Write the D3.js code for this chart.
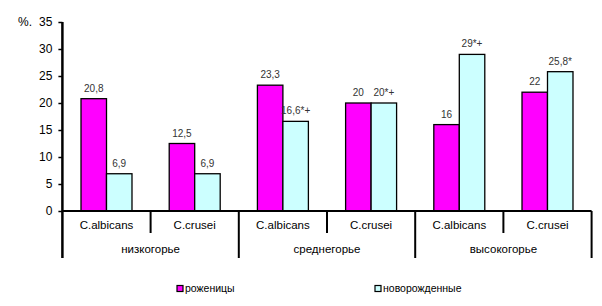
<!DOCTYPE html>
<html><head><meta charset="utf-8">
<script src="https://cdn.jsdelivr.net/npm/d3@7"></script>
<style>body{margin:0;background:#fff}svg{display:block;font-family:"Liberation Sans",Arial,sans-serif}</style>
</head><body>
<svg id="c" width="602" height="306"></svg>
<script>
const groups = ["низкогорье","среднегорье","высокогорье"];
const species = ["C.albicans","C.crusei"];
const seriesNames = ["роженицы","новорожденные"];
const mothers = [20.8, 12.5, 23.3, 20, 16, 22];
const newborns = [6.9, 6.9, 16.6, 20, 29, 25.8];
const motherLabels = ["20,8","12,5","23,3","20","16","22"];
const newbornLabels = ["6,9","6,9","16,6*+","20*+","29*+","25,8*"];
const yTicks = [0,5,10,15,20,25,30,35];
const colors = ["#ff00ff","#ccffff"];

(function(){
const svg = d3.select("#c");
const pL = 62.4, pR = 591.6, pT = 22, pB = 211;
const cats = d3.range(6);
const x = d3.scaleBand().domain(cats).range([pL, pR]).paddingInner(0).paddingOuter(0);
const xs = d3.scaleBand().domain([0,1]).range([0, x.bandwidth()]).paddingInner(0).paddingOuter(0.73);
const y = d3.scaleLinear().domain([0,35]).range([pB, pT]);

const data = [];
cats.forEach(i => {
  data.push({c:i, s:0, v:mothers[i], l:motherLabels[i]});
  data.push({c:i, s:1, v:newborns[i], l:newbornLabels[i]});
});
svg.append("g").selectAll("rect").data(data).join("rect")
  .attr("x", d => x(d.c) + xs(d.s))
  .attr("y", d => y(d.v))
  .attr("width", xs.bandwidth())
  .attr("height", d => y(0) - y(d.v))
  .attr("fill", d => colors[d.s])
  .attr("stroke", "#000").attr("stroke-width", 1.3);

svg.append("g").selectAll("text").data(data).join("text")
  .attr("x", d => x(d.c) + xs(d.s) + xs.bandwidth()/2)
  .attr("y", d => y(d.v) - 7)
  .attr("text-anchor", "middle")
  .attr("font-size", 10).attr("fill", "#333")
  .text(d => d.l);

const yAxis = d3.axisLeft(y).tickValues(yTicks).tickSize(4).tickPadding(6);
const ya = svg.append("g").attr("transform", `translate(${pL},0)`).call(yAxis);
ya.select(".domain").remove();
ya.selectAll("line").attr("stroke", "#000").attr("stroke-width", 1.5);
ya.selectAll("text").attr("font-size", 12).attr("font-family", '"Liberation Sans",Arial,sans-serif').attr("fill", "#000");
svg.append("line").attr("x1", pL).attr("x2", pL).attr("y1", pT).attr("y2", 258).attr("stroke", "#000").attr("stroke-width", 2.5);
svg.append("text").attr("x", 18).attr("y", 26).attr("font-size", 12).text("%.");

svg.append("line").attr("x1", pL).attr("x2", pR).attr("y1", pB).attr("y2", pB).attr("stroke", "#000").attr("stroke-width", 2);
cats.forEach(i => {
  const xr = x(i) + x.bandwidth();
  const isGroup = (i % 2 === 1);
  svg.append("line").attr("x1", xr).attr("x2", xr).attr("y1", pB)
    .attr("y2", isGroup ? 258 : 233).attr("stroke", "#000").attr("stroke-width", 2);
});
svg.append("g").selectAll("text").data(cats).join("text")
  .attr("x", i => x(i) + x.bandwidth()/2).attr("y", 229)
  .attr("text-anchor", "middle").attr("font-size", 11.5)
  .text(i => species[i % 2]);
svg.append("g").selectAll("text").data(groups).join("text")
  .attr("x", (g, j) => x(j*2) + x.bandwidth()).attr("y", 253)
  .attr("text-anchor", "middle").attr("font-size", 11.5)
  .text(g => g);

const legX = [177, 375];
seriesNames.forEach((n, k) => {
  svg.append("rect").attr("x", legX[k]).attr("y", 285.5).attr("width", 6).attr("height", 6)
    .attr("fill", colors[k]).attr("stroke", "#000").attr("stroke-width", 1.2);
  svg.append("text").attr("x", legX[k] + 8).attr("y", 292).attr("font-size", 10.5).text(n);
});
})();
</script>
</body></html>
